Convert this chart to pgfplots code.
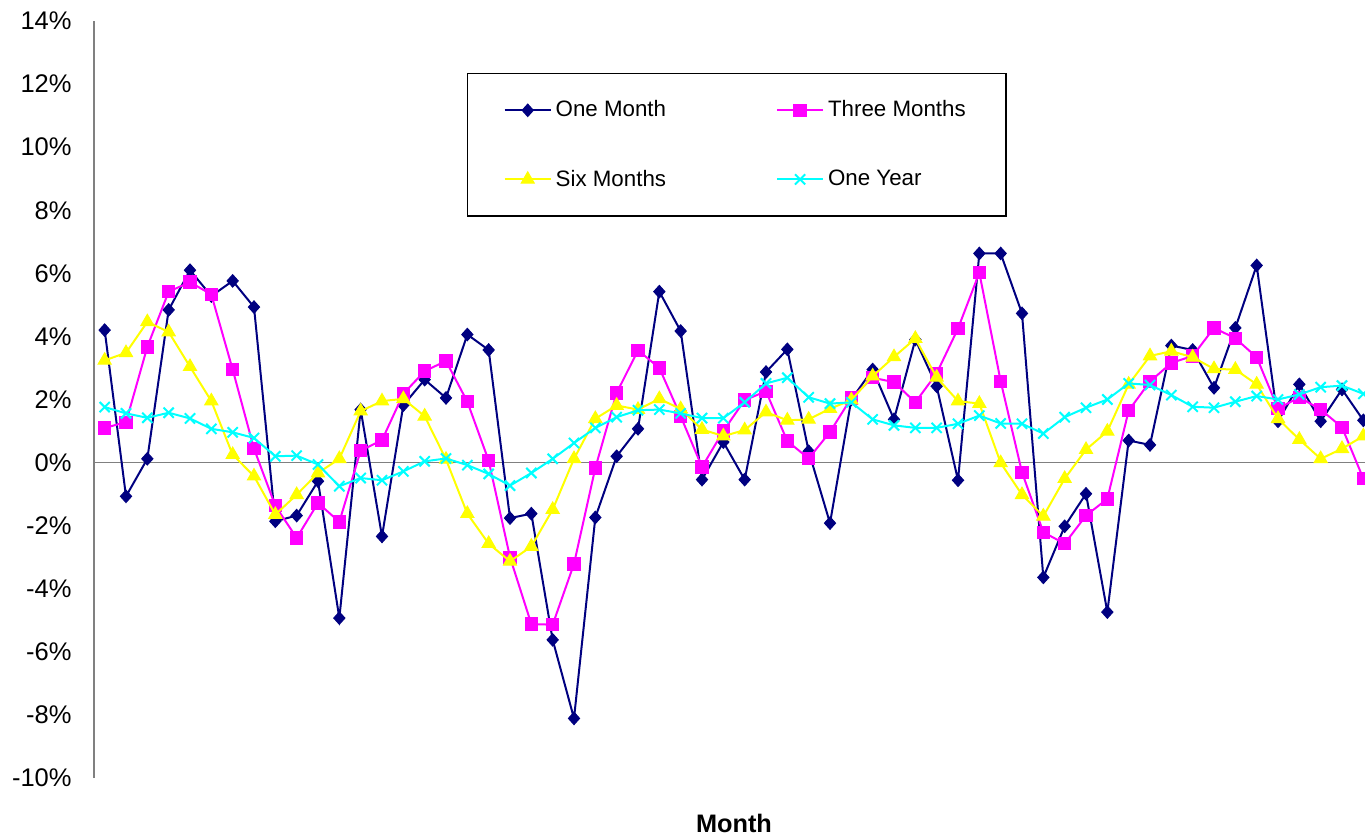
\documentclass[border=0pt]{standalone}
\usepackage{fontspec}
\setmainfont{Liberation Sans}
\usepackage{pgfplots}
\usepackage{pgfplotstable}
\pgfplotsset{compat=1.18}
\definecolor{navyc}{RGB}{0,0,128}
\definecolor{magc}{RGB}{255,0,255}
\definecolor{yelc}{RGB}{255,255,0}
\definecolor{cyac}{RGB}{0,255,255}
\definecolor{axgray}{RGB}{128,128,128}

\pgfplotstableread{
i m1 m3 m6 m12
0 4.20 1.10 3.24 1.76
1 -1.07 1.28 3.48 1.56
2 0.12 3.67 4.46 1.42
3 4.84 5.42 4.14 1.58
4 6.10 5.72 3.04 1.40
5 5.28 5.33 1.95 1.07
6 5.76 2.95 0.25 0.96
7 4.93 0.44 -0.43 0.78
8 -1.86 -1.37 -1.65 0.20
9 -1.68 -2.39 -1.02 0.22
10 -0.59 -1.28 -0.33 -0.06
11 -4.93 -1.88 0.12 -0.75
12 1.68 0.38 1.63 -0.49
13 -2.34 0.71 1.95 -0.56
14 1.82 2.18 2.02 -0.28
15 2.63 2.90 1.47 0.04
16 2.05 3.22 0.10 0.13
17 4.06 1.93 -1.62 -0.08
18 3.57 0.06 -2.57 -0.36
19 -1.76 -3.00 -3.13 -0.73
20 -1.62 -5.12 -2.66 -0.33
21 -5.62 -5.14 -1.49 0.12
22 -8.11 -3.21 0.12 0.62
23 -1.74 -0.17 1.39 1.10
24 0.20 2.21 1.81 1.44
25 1.07 3.56 1.68 1.66
26 5.42 3.00 2.02 1.68
27 4.17 1.47 1.70 1.56
28 -0.54 -0.14 1.05 1.41
29 0.65 1.00 0.84 1.41
30 -0.54 1.98 1.03 1.91
31 2.87 2.26 1.60 2.51
32 3.59 0.68 1.34 2.69
33 0.36 0.13 1.37 2.07
34 -1.92 0.97 1.71 1.87
35 2.00 2.05 1.98 1.91
36 2.95 2.69 2.74 1.37
37 1.37 2.55 3.35 1.18
38 3.90 1.91 3.93 1.10
39 2.42 2.83 2.70 1.10
40 -0.56 4.25 1.95 1.23
41 6.63 6.02 1.87 1.49
42 6.63 2.58 -0.01 1.24
43 4.73 -0.31 -1.02 1.23
44 -3.64 -2.21 -1.70 0.92
45 -2.02 -2.57 -0.51 1.44
46 -0.99 -1.68 0.41 1.74
47 -4.74 -1.15 0.99 2.00
48 0.70 1.65 2.48 2.51
49 0.56 2.57 3.38 2.46
50 3.71 3.16 3.53 2.14
51 3.57 3.38 3.34 1.77
52 2.37 4.27 2.97 1.74
53 4.27 3.94 2.95 1.93
54 6.25 3.34 2.48 2.11
55 1.31 1.71 1.39 2.00
56 2.48 2.07 0.73 2.16
57 1.31 1.68 0.12 2.39
58 2.32 1.12 0.44 2.44
59 1.34 -0.51 0.84 2.18
}\datatable

\begin{document}
\begin{tikzpicture}
\begin{axis}[
  name=ax,
  scale only axis,
  width=640bp, height=378.5bp,
  xmin=-0.5, xmax=59.5, ymin=-10, ymax=14,
  axis x line*=bottom, axis y line*=left,
  axis line style={-},
  x axis line style={draw=none},
  y axis line style={draw=axgray, line width=1bp},
  xtick=\empty,
  ytick={-10,-8,...,14},
  yticklabels={-10\%,-8\%,-6\%,-4\%,-2\%,0\%,2\%,4\%,6\%,8\%,10\%,12\%,14\%},
  major tick length=0pt,
  ytick style={draw=none},
  yticklabel style={font=\fontsize{12.8}{15}\selectfont, anchor=east, inner sep=0pt, xshift=-11bp},
  xlabel={Month},
  xlabel style={at={(axis description cs:0.5,0)}, anchor=center, yshift=-22.5bp, font=\bfseries\fontsize{12.7}{15}\selectfont},
  clip marker paths=true,
  legend columns=2,
  legend cell align=left,
  legend image code/.code={\draw[mark repeat=2, mark phase=2] plot coordinates {(0bp,0bp) (11.5bp,0bp) (23bp,0bp)};},
  legend style={at={(0.2914,0.9313)}, anchor=north west, draw=black, line width=0.75bp, fill=white,
    font=\fontsize{11.2}{13}\selectfont, inner xsep=18bp, inner ysep=11.5bp, row sep=21bp,
    /tikz/every even column/.append style={column sep=53bp}},
]
\addplot[forget plot, draw=axgray, line width=0.75bp, no marks] coordinates {(-0.5,0) (59.5,0)};
\addplot[navyc, line width=1bp, mark=diamond*, mark size=3.1bp, mark options={solid, fill=navyc, draw=navyc, line width=0.5bp, xscale=1.2}] table[x=i, y=m1] {\datatable};
\addlegendentry{One Month}
\addplot[magc, line width=1bp, mark=square*, mark size=3.1bp, mark options={solid, fill=magc, draw=magc, line width=0.5bp}] table[x=i, y=m3] {\datatable};
\addlegendentry{Three Months}
\addplot[yelc, line width=1bp, mark=triangle*, mark size=3.8bp, mark options={solid, fill=yelc, draw=yelc, line width=0.5bp}] table[x=i, y=m6] {\datatable};
\addlegendentry{Six Months}
\addplot[cyac, line width=1bp, mark=x, mark size=3.6bp, mark options={solid, draw=cyac, line width=1bp}] table[x=i, y=m12] {\datatable};
\addlegendentry{One Year}
\end{axis}
\pgfresetboundingbox
\path[use as bounding box] ([shift={(-47bp,-31bp)}]ax.south west) rectangle ++(682.5bp,420bp);
\end{tikzpicture}
\end{document}
